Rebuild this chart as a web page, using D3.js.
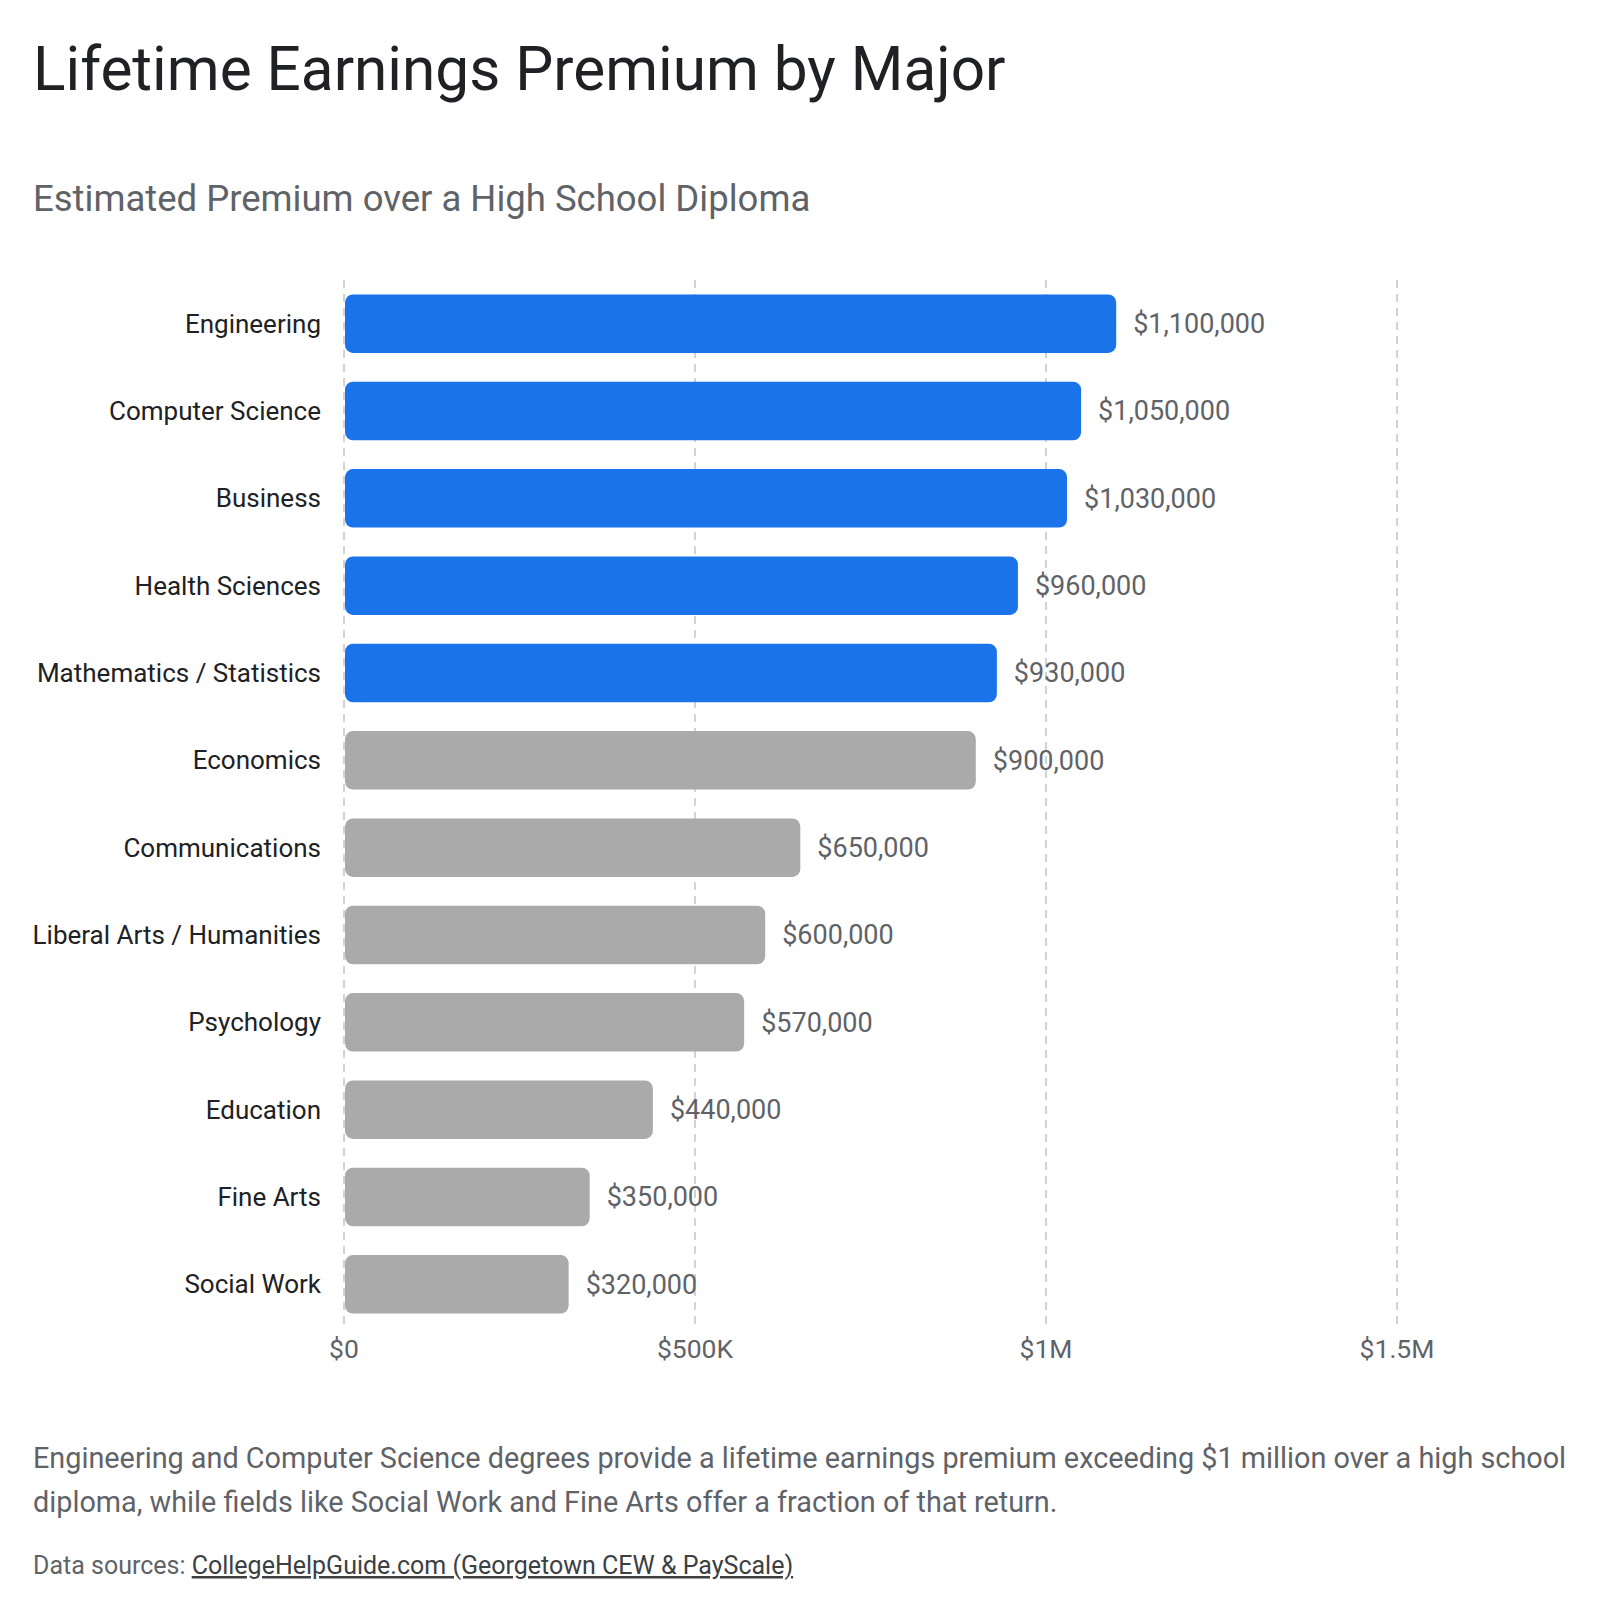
<html>
<head>
<script src="https://d3js.org/d3.v7.min.js"></script>
<style>
  body { margin: 0; background: #fff; }
  text { font-family: "Google Sans", Roboto, "Noto Sans", sans-serif; }
</style>
</head>
<body>
<svg id="chart" width="1600" height="1614"></svg>
<script>
// data
var majors = ["Engineering", "Computer Science", "Business", "Health Sciences",
  "Mathematics / Statistics", "Economics", "Communications", "Liberal Arts / Humanities",
  "Psychology", "Education", "Fine Arts", "Social Work"];
var premium = [1100000, 1050000, 1030000, 960000, 930000, 900000, 650000, 600000,
  570000, 440000, 350000, 320000];
var highlighted = ["Engineering", "Computer Science", "Business", "Health Sciences",
  "Mathematics / Statistics"];
var xTicks = [0, 500000, 1000000, 1500000];

var title = "Lifetime Earnings Premium by Major";
var subtitle = "Estimated Premium over a High School Diploma";
var noteLines = [
  "Engineering and Computer Science degrees provide a lifetime earnings premium exceeding $1 million over a high school",
  "diploma, while fields like Social Work and Fine Arts offer a fraction of that return."
];

var data = majors.map((m, i) => ({name: m, value: premium[i]}));

var svg = d3.select("#chart");
var plotLeft = 344, plotRight = 1397, plotTop = 280, plotBottom = 1328;

var x = d3.scaleLinear().domain([0, 1500000]).range([plotLeft, plotRight]);
var y = d3.scaleBand().domain(majors).range([plotTop, plotBottom])
  .paddingInner(0.33).paddingOuter(0.165);

svg.append("text").attr("x", 33).attr("y", 90)
  .attr("font-size", 60.3).attr("fill", "#202124").text(title);
svg.append("text").attr("x", 33).attr("y", 211)
  .attr("font-size", 36.5).attr("fill", "#5f6368").text(subtitle);

// dashed grid
svg.append("g").selectAll("line").data(xTicks).enter().append("line")
  .attr("x1", d => x(d)).attr("x2", d => x(d))
  .attr("y1", plotTop).attr("y2", plotBottom)
  .attr("stroke", "#c4c4c4").attr("stroke-width", 1.5)
  .attr("stroke-dasharray", "8,6");

var fmt = d3.format("$~s");
svg.append("g").selectAll("text").data(xTicks).enter().append("text")
  .attr("x", d => x(d)).attr("y", 1358)
  .attr("text-anchor", "middle").attr("font-size", 26.5).attr("fill", "#5f6368")
  .text(d => fmt(d).replace("k", "K"));

svg.append("g").selectAll("rect").data(data).enter().append("rect")
  .attr("x", x(0) + 1).attr("y", d => y(d.name))
  .attr("width", d => x(d.value) - x(0) - 1).attr("height", y.bandwidth())
  .attr("rx", 8)
  .attr("fill", d => highlighted.includes(d.name) ? "#1a73e8" : "#aaaaaa");

svg.append("g").selectAll("text").data(data).enter().append("text")
  .attr("x", 321).attr("y", d => y(d.name) + y.bandwidth() / 2)
  .attr("dy", "0.35em").attr("text-anchor", "end")
  .attr("font-size", 26).attr("fill", "#202124")
  .text(d => d.name);

svg.append("g").selectAll("text").data(data).enter().append("text")
  .attr("x", d => x(d.value) + 17).attr("y", d => y(d.name) + y.bandwidth() / 2)
  .attr("dy", "0.35em").attr("font-size", 27).attr("fill", "#5f6368")
  .text(d => d3.format("$,")(d.value));

svg.append("g").selectAll("text").data(noteLines).enter().append("text")
  .attr("x", 33).attr("y", (d, i) => 1468 + i * 44)
  .attr("font-size", 28.8).attr("fill", "#5f6368").text(d => d);

var src = svg.append("text").attr("x", 33).attr("y", 1574)
  .attr("font-size", 25).attr("fill", "#5f6368");
src.append("tspan").text("Data sources: ");
src.append("tspan").attr("fill", "#3c4043").attr("text-decoration", "underline")
  .text("CollegeHelpGuide.com (Georgetown CEW & PayScale)");
</script>
</body>
</html>
